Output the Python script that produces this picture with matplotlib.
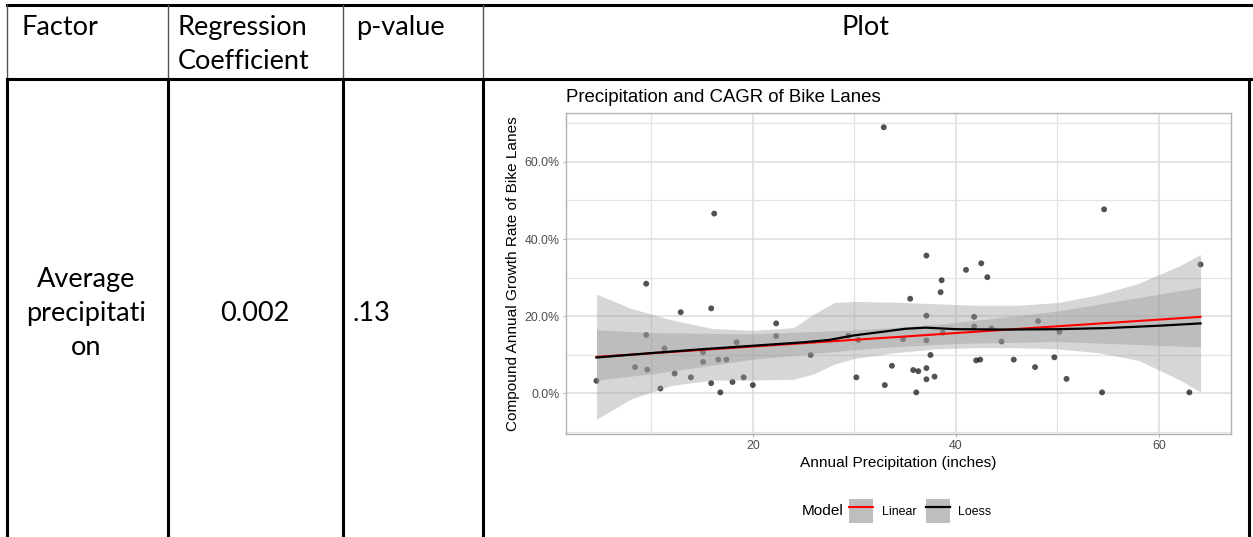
import numpy as np
import matplotlib
matplotlib.use("Agg")
import matplotlib.pyplot as plt
from matplotlib.patches import Patch
from matplotlib.lines import Line2D
from matplotlib.legend_handler import HandlerTuple
from matplotlib.ticker import FuncFormatter, MultipleLocator

# table text
header = ["Factor", "Regression\nCoefficient", "p-value", "Plot"]
factor = "Average\nprecipitati\non"
coef = "0.002"
pval = ".13"

# scatter: annual precipitation (inches) vs CAGR (%)
precip = [4.6, 8.4, 9.5, 9.5, 9.6, 10.9, 11.3, 12.3, 12.9, 13.9, 15.1, 15.1, 15.9,
          15.9, 16.2, 16.6, 16.8, 17.4, 18.0, 18.4, 19.1, 20.0, 22.3, 22.3, 25.7,
          29.4, 30.2, 30.4, 32.9, 33.0, 33.7, 34.8, 35.5, 35.8, 36.1, 36.3, 37.1,
          37.1, 37.1, 37.1, 37.1, 37.5, 37.9, 38.5, 38.6, 38.7, 41.0, 41.8, 41.8,
          42.0, 42.4, 42.5, 43.1, 43.5, 44.5, 45.7, 47.8, 48.1, 49.7, 50.2, 50.9,
          54.4, 54.6, 63.0, 64.1]
cagr = [3.2, 6.75, 28.4, 15.1, 6.1, 1.2, 11.6, 5.1, 21.0, 4.1, 8.1, 10.6, 22.0,
        2.6, 46.6, 8.7, 0.2, 8.7, 2.9, 13.2, 4.1, 2.1, 18.1, 14.8, 9.9,
        14.9, 4.1, 13.8, 69.0, 2.1, 7.1, 14.0, 24.5, 6.0, 0.2, 5.7, 35.7,
        20.1, 13.7, 6.5, 3.6, 9.9, 4.3, 26.2, 29.3, 15.7, 32.0, 19.8, 17.3,
        8.5, 8.7, 33.7, 30.1, 16.8, 13.4, 8.7, 6.75, 18.7, 9.3, 15.9, 3.7,
        0.2, 47.7, 0.2, 33.4]

# linear fit and its confidence band
lin_x = [4.6, 10, 20, 30, 35, 40, 50, 64.1]
lin_y = [9.4, 10.35, 12.1, 13.85, 14.7, 15.6, 17.35, 19.8]
lin_lo = [3.4, 5.0, 8.8, 11.3, 12.2, 12.9, 13.4, 12.0]
lin_hi = [16.5, 15.7, 15.4, 16.4, 17.2, 18.3, 21.3, 27.5]

# loess fit and its confidence band
loess_x = [4.6, 10, 15, 20, 25, 27.5, 30, 33, 35, 37, 40, 45, 50, 55, 60, 64.1]
loess_y = [9.25, 10.4, 11.4, 12.3, 13.2, 13.8, 15.0, 16.0, 16.7, 17.0, 16.6, 16.5,
           16.6, 16.9, 17.5, 18.1]
band_x = [4.6, 8, 12, 16, 20, 24, 26, 28, 30, 34, 38, 42, 46, 50, 54, 58, 62, 64.1]
band_hi = [25.7, 22.0, 19.0, 16.8, 16.3, 17.0, 20.5, 23.5, 23.8, 23.6, 23.2, 22.8,
           22.8, 23.5, 25.5, 28.5, 33.0, 36.0]
band_lo = [-6.8, -1.5, 2.0, 3.4, 3.4, 3.6, 5.0, 7.5, 9.0, 10.5, 11.5, 11.8,
           11.8, 11.5, 10.5, 8.5, 3.5, 0.3]

W, H = 1253, 537
fig = plt.figure(figsize=(W / 100, H / 100), dpi=100)

# --- table drawn in pixel coordinates ---
bg = fig.add_axes([0, 0, 1, 1])
bg.set_xlim(0, W)
bg.set_ylim(H, 0)
bg.axis("off")

cell_font = dict(family="Lato", fontsize=19.5, color="black", va="baseline")
bg.plot([7, 1252], [5, 5], color="black", lw=2.2)
bg.plot([7, 1252], [79, 79], color="black", lw=2.2)
for x in [7, 168, 343, 483]:
    bg.plot([x, x], [5, 79], color="#555555", lw=1.0)
for x in [7, 168, 343, 483, 1249]:
    bg.plot([x, x], [79, H], color="black", lw=2.2)


def cell(x, y0, text, ha, pitch=34):
    for i, line in enumerate(text.split("\n")):
        bg.text(x, y0 + i * pitch, line, ha=ha, **cell_font)


cell(22, 35, header[0], "left")
cell(178, 35, header[1], "left")
cell(356, 35, header[2], "left")
cell(866, 35, header[3], "center")
cell(86, 287, factor, "center")
cell(255, 321, coef, "center")
cell(353, 321, pval, "left")

# --- embedded ggplot-style chart ---
ax = fig.add_axes([566 / W, 1 - 434 / H, (1231 - 566) / W, (434 - 113) / H])
ax.set_zorder(2)
ax.set_facecolor("white")

ax.scatter(precip, cagr, s=18, color="black", alpha=0.68, edgecolors="none", zorder=2)
ax.fill_between(lin_x, lin_lo, lin_hi, color="#999999", alpha=0.4, lw=0, zorder=3)
ax.fill_between(band_x, band_lo, band_hi, color="#999999", alpha=0.4, lw=0, zorder=3)
ax.plot(lin_x, lin_y, color="red", lw=1.5, zorder=4)
ax.plot(loess_x, loess_y, color="black", lw=1.6, zorder=5)

ax.set_xlim(1.6, 67.1)
ax.set_ylim(-10.6, 72.7)
ax.xaxis.set_major_locator(MultipleLocator(20))
ax.xaxis.set_minor_locator(MultipleLocator(10))
ax.yaxis.set_major_locator(MultipleLocator(20))
ax.yaxis.set_minor_locator(MultipleLocator(10))
ax.yaxis.set_major_formatter(FuncFormatter(lambda v, p: f"{v:.1f}%"))
ax.grid(which="major", color="#dcdcdc", lw=1.1, zorder=0)
ax.grid(which="minor", color="#e3e3e3", lw=0.9, zorder=0)
ax.set_axisbelow(True)
for s in ax.spines.values():
    s.set_color("#b3b3b3")
    s.set_linewidth(1.0)
ax.tick_params(which="major", length=2.5, color="#b3b3b3", labelsize=8.9,
               labelcolor="#4d4d4d", pad=2)
ax.tick_params(which="minor", length=0)
for lab in ax.get_xticklabels() + ax.get_yticklabels():
    lab.set_family("Liberation Sans")

ax.set_title("Precipitation and CAGR of Bike Lanes", loc="left", fontsize=13.4,
             family="Liberation Sans", pad=8, x=0)
ax.set_xlabel("Annual Precipitation (inches)", fontsize=11.1, family="Liberation Sans",
              labelpad=3)
ax.set_ylabel("Compound Annual Growth Rate of Bike Lanes", fontsize=11.1,
              family="Liberation Sans", labelpad=3)

# legend at the bottom
key = Patch(facecolor="#bebebe", edgecolor="none")
handles = [(key, Line2D([], [], color="red", lw=1.5)),
           (key, Line2D([], [], color="black", lw=1.6))]
fig.legend(handles, ["Linear", "Loess"], ncol=2, frameon=False,
           handler_map={tuple: HandlerTuple(ndivide=1)},
           prop={"family": "Liberation Sans", "size": 8.9},
           handlelength=1.94, handleheight=2.6, handletextpad=0.7, columnspacing=0.75,
           loc="center left", bbox_to_anchor=(849 / W, 1 - 511 / H),
           borderpad=0, borderaxespad=0)
bg.text(802, 511, "Model", va="center", ha="left", fontsize=11.1,
        family="Liberation Sans", color="black")

fig.savefig("out.png", dpi=100)
